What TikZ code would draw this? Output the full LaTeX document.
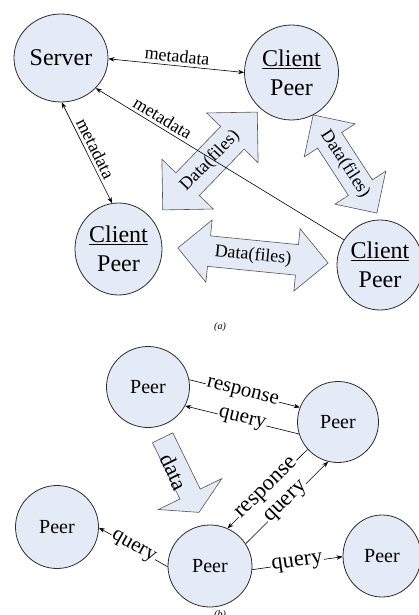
\documentclass[tikz,border=0pt]{standalone}
\usepackage{fontspec}
\setmainfont{Liberation Serif}
\usetikzlibrary{shapes.geometric,shapes.arrows,arrows.meta}
\definecolor{nodefill}{RGB}{228,235,246}
\definecolor{nodeline}{RGB}{45,45,45}
\definecolor{blockline}{RGB}{85,85,85}
\begin{document}
\begin{tikzpicture}[x=1pt,y=-1pt,
  peer/.style={ellipse, draw=nodeline, fill=nodefill, line width=0.8pt, inner sep=0pt, align=center},
  bigtext/.style={font=\fontsize{24}{29}\selectfont},
  smalltext/.style={font=\fontsize{20}{24}\selectfont},
  link/.style={draw=black, line width=0.6pt},
  arr/.style={-{Stealth[length=6pt,width=4.5pt]}},
  biarr/.style={{Stealth[length=6pt,width=4.5pt]}-{Stealth[length=6pt,width=4.5pt]}},
  mlabel/.style={font=\fontsize{18}{20}\selectfont, sloped, above, inner sep=3pt},
  qlabel/.style={font=\fontsize{21}{23}\selectfont, sloped, fill=white, inner sep=1pt},
  biglabel/.style={font=\fontsize{22.5}{25}\selectfont},
  blocktext/.style={font=\fontsize{18}{20}\selectfont},
  dblarrow/.style={double arrow, draw=blockline, fill=nodefill, line width=0.6pt,
    inner xsep=0pt, text height=0pt, text depth=0pt, double arrow tip angle=90},
  sglarrow/.style={single arrow, draw=blockline, fill=nodefill, line width=0.6pt,
    inner xsep=0pt, text height=0pt, text depth=0pt}
]
\useasboundingbox (0,0) rectangle (419,615);
\fill[white] (0,0) rectangle (419,615);

% ---------- (a) block arrows ----------
\node[dblarrow, minimum height=136pt, minimum width=71pt, inner ysep=16pt,
  double arrow head extend=19.5pt, rotate=46] (d1) at (210,161) {};
\node[blocktext, rotate=46] (d1t) at (d1.center) {Data(files)};
\node[dblarrow, minimum height=117pt, minimum width=60pt, inner ysep=14pt,
  double arrow head extend=16pt, rotate=-57] (d2) at (345,164) {};
\node[blocktext, rotate=-57] (d2t) at (d2.center) {Data(files)};
\node[dblarrow, minimum height=151pt, minimum width=62pt, inner ysep=15pt,
  double arrow head extend=16pt, rotate=-5.7] (d3) at (253,255.5) {};
\node[blocktext, rotate=-5.7] (d3t) at (d3.center) {Data(files)};

% ---------- (a) nodes ----------
\node[peer, bigtext, minimum width=94pt, minimum height=88pt] (server) at (61,58) {Server};
\node[peer, bigtext, minimum width=94pt, minimum height=95pt] (tc) at (291.5,72.5) {\underline{Client}\\Peer};
\node[peer, bigtext, minimum width=87pt, minimum height=92pt] (bl) at (118.5,249) {\underline{Client}\\Peer};
\node[peer, bigtext, minimum width=86pt, minimum height=90pt] (br) at (380,265) {\underline{Client}\\Peer};

% ---------- (a) links ----------
\draw[link, biarr] (server.-1) -- node[mlabel] (m1) {metadata} (tc.180);
\draw[link, biarr] (server.-89) -- node[mlabel] (m2) {metadata} (bl.98);
\draw[link, arr] (br.145) -- node[mlabel, pos=0.75] (m3) {metadata} (server.-41);

\node[font=\fontsize{10}{12}\selectfont\itshape] (capa) at (220,327) {(a)};

% ---------- (b) ----------
\node[sglarrow, minimum height=83pt, minimum width=70pt, inner ysep=11pt,
  single arrow head extend=24pt, single arrow tip angle=120, rotate=-64, anchor=tail] (dataarrow) at (162.5,437.5) {};
\node[font=\fontsize{22}{24}\selectfont, rotate=-64] (datat) at (174,472) {data};

\node[peer, smalltext, minimum width=83pt, minimum height=81pt] (p1) at (148,387) {Peer};
\node[peer, smalltext, minimum width=81pt, minimum height=81pt] (p2) at (338,422) {Peer};
\node[peer, smalltext, minimum width=83pt, minimum height=83pt] (p3) at (57,527) {Peer};
\node[peer, smalltext, minimum width=84pt, minimum height=82pt] (p4) at (210,566) {Peer};
\node[peer, smalltext, minimum width=78pt, minimum height=82pt] (p5) at (382,556) {Peer};

\draw[link, arr] (p1.10) -- node[qlabel, pos=0.48] (r1) {response} (p2.159);
\draw[link, arr] (p2.197) -- node[qlabel] (q1) {query} (p1.-27);
\draw[link, arr] (p2.222) -- node[qlabel, biglabel] (r2) {response} (p4.65);
\draw[link, arr] (p4.32) -- node[qlabel, biglabel] (q2) {query} (p2.256);
\draw[link, arr] (p4.181) -- node[qlabel] (q3) {query} (p3.-1);
\draw[link, arr] (p4.-5) -- node[qlabel, biglabel] (q4) {query} (p5.181);

\node[font=\fontsize{10}{12}\selectfont\itshape, anchor=north] (capb) at (220,607) {(b)};
\end{tikzpicture}
\end{document}
